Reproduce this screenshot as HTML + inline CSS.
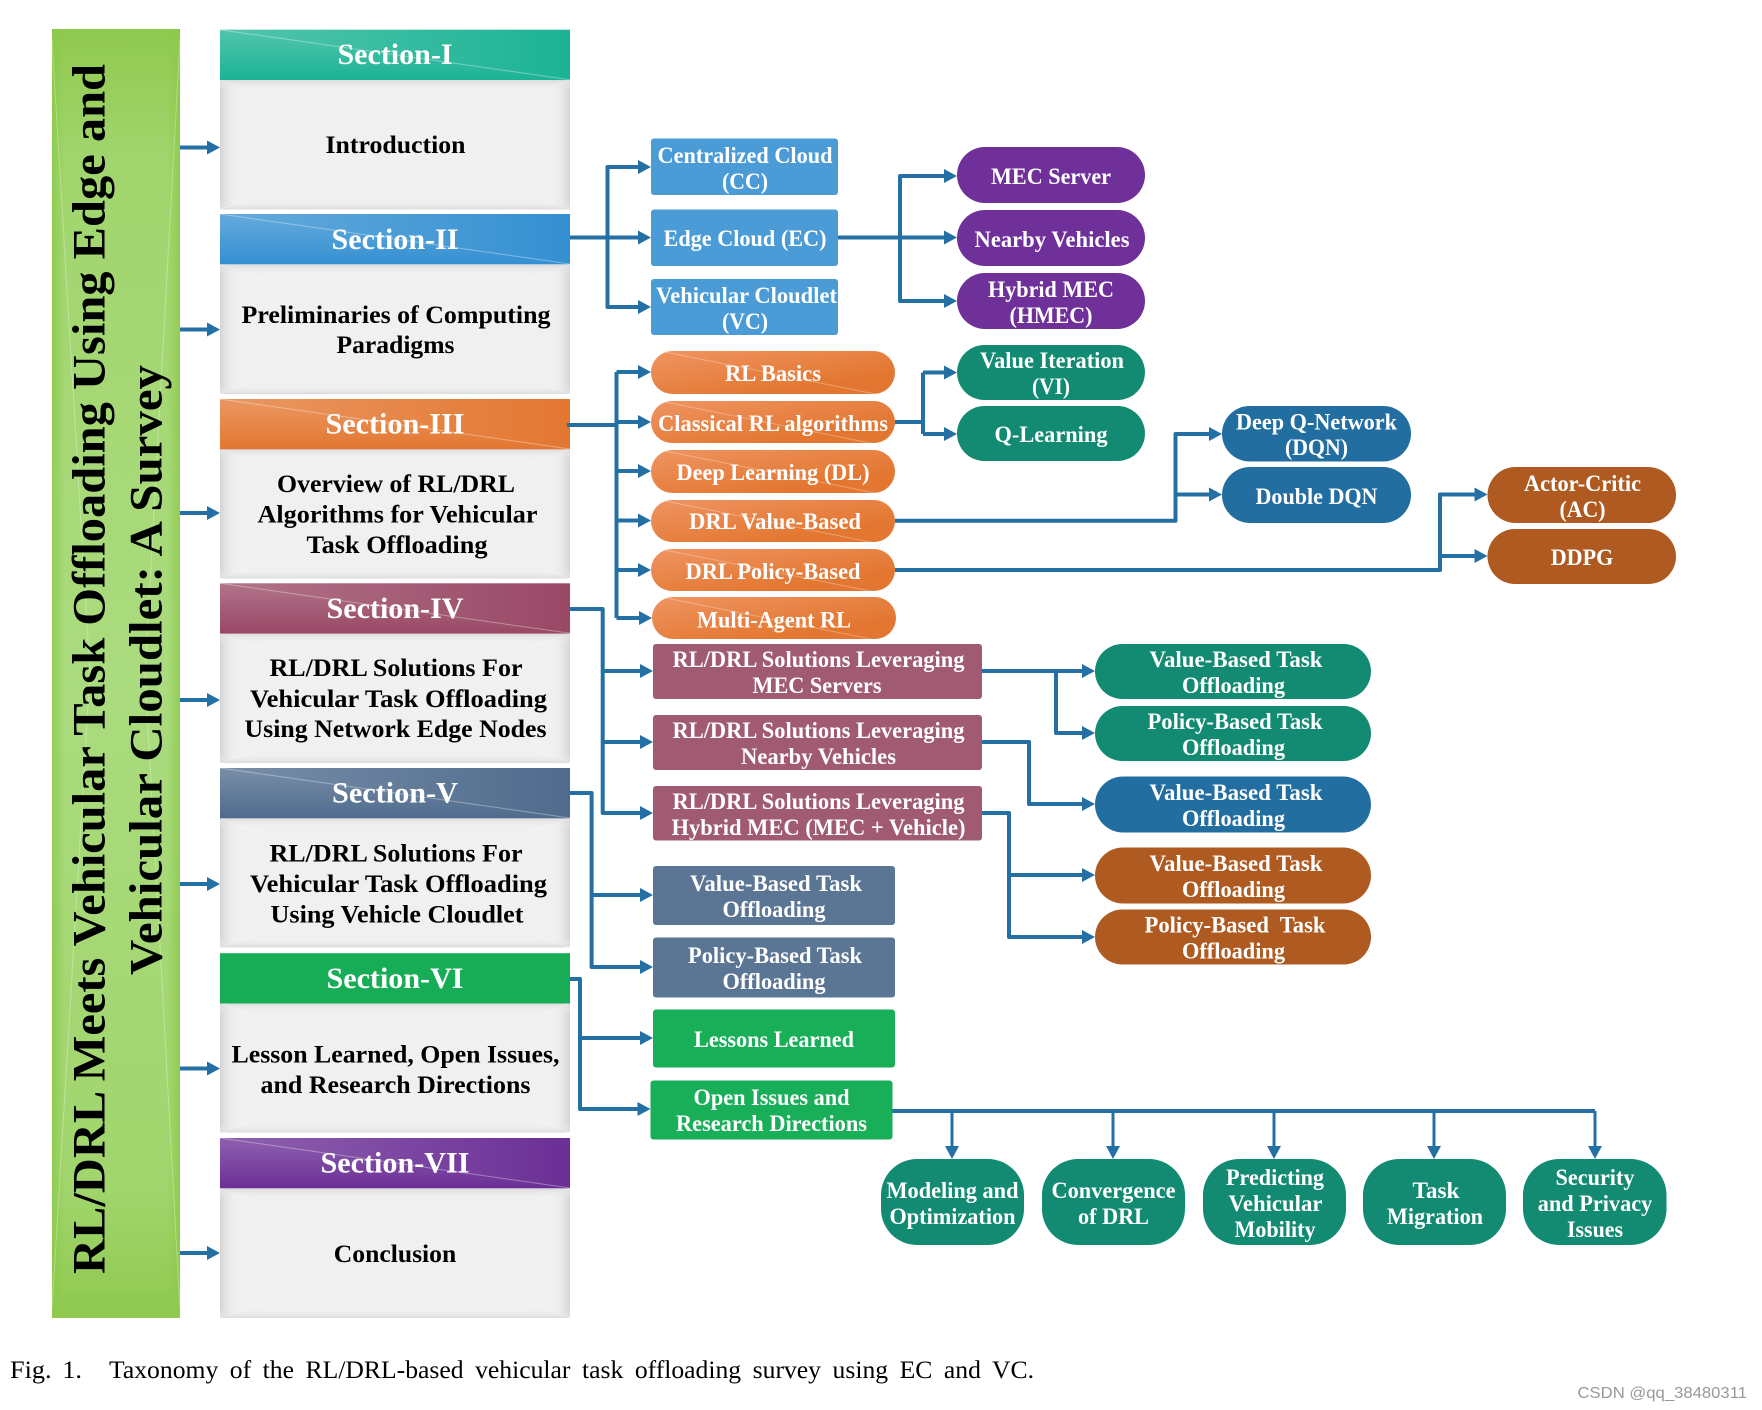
<!DOCTYPE html>
<html lang="en">
<head>
<meta charset="utf-8">
<title>Taxonomy of the RL/DRL-based vehicular task offloading survey</title>
<style>
html,body{margin:0;padding:0;background:#fff;width:1762px;height:1410px;overflow:hidden}
svg{display:block}
text{font-family:"Liberation Serif",serif;text-anchor:middle}
.t{font-weight:bold;fill:#fff;font-size:23px}
.s{font-weight:bold;fill:#fff;font-size:30px}
.k{font-weight:bold;fill:#000;font-size:25.5px}
</style>
</head>
<body>
<svg width="1762" height="1410" viewBox="0 0 1762 1410" xmlns="http://www.w3.org/2000/svg">
<defs>
<linearGradient id="barV" x1="0" y1="0" x2="0" y2="1"><stop offset="0" stop-color="#8fc94f"/><stop offset=".1" stop-color="#a1d56d"/><stop offset=".5" stop-color="#aadb7e"/><stop offset=".9" stop-color="#a1d56d"/><stop offset="1" stop-color="#8fc94f"/></linearGradient>
<linearGradient id="edgeH" x1="0" y1="0" x2="1" y2="0"><stop offset="0" stop-color="#8cc94a" stop-opacity=".8"/><stop offset=".1" stop-color="#8cc94a" stop-opacity="0"/><stop offset=".9" stop-color="#8cc94a" stop-opacity="0"/><stop offset="1" stop-color="#8cc94a" stop-opacity=".8"/></linearGradient>
<linearGradient id="gH" x1="0" y1="0" x2="1" y2="0"><stop offset="0" stop-color="#d4d4d4"/><stop offset=".05" stop-color="#f0f0f0" stop-opacity="0"/><stop offset=".95" stop-color="#f0f0f0" stop-opacity="0"/><stop offset="1" stop-color="#d4d4d4"/></linearGradient>
<linearGradient id="gV" x1="0" y1="0" x2="0" y2="1"><stop offset="0" stop-color="#dcdcdc"/><stop offset=".08" stop-color="#f0f0f0" stop-opacity="0"/><stop offset=".93" stop-color="#f0f0f0" stop-opacity="0"/><stop offset="1" stop-color="#dcdcdc"/></linearGradient>
<linearGradient id="hV" x1="0" y1="0" x2="0" y2="1"><stop offset="0" stop-color="#fff" stop-opacity=".24"/><stop offset="1" stop-color="#fff" stop-opacity="0"/></linearGradient>
<linearGradient id="hH" x1="0" y1="0" x2="1" y2="0"><stop offset="0" stop-color="#fff" stop-opacity=".24"/><stop offset="1" stop-color="#fff" stop-opacity="0"/></linearGradient>
<linearGradient id="or" x1="0" y1="0" x2="1" y2="1"><stop offset="0" stop-color="#ef9461"/><stop offset=".75" stop-color="#e37731"/></linearGradient>
<polygon id="a" points="-13,-7 0,0 -13,7" fill="#2470a4"/>
<polygon id="d" points="-7,-13 7,-13 0,0" fill="#2470a4"/>
<g id="b">
<rect x="220" y="0" width="350" height="129.500" fill="#f0f0f0"/>
<rect x="220" y="0" width="350" height="129.500" fill="url(#gH)"/>
<rect x="220" y="0" width="350" height="129.500" fill="url(#gV)"/>
<path d="M220 0L570 129.500M570 0L220 129.500" stroke="#fff" stroke-opacity=".3" stroke-width="1" fill="none"/>
</g>
<g id="hl">
<polygon points="220,0 570,50 570,0" fill="url(#hH)"/>
<polygon points="220,0 570,50 220,50" fill="url(#hV)"/>
<line x1="220" y1="0" x2="570" y2="50" stroke="#fff" stroke-opacity=".35" stroke-width="1"/>
</g>
</defs>

<!-- green title bar -->
<rect x="52" y="29" width="128" height="1289" fill="url(#barV)"/>
<rect x="52" y="29" width="128" height="1289" fill="url(#edgeH)"/>
<path d="M52 40L90 673L52 1310M180 40L145 673L180 1310" stroke="#fff" stroke-opacity=".3" stroke-width="1" fill="none"/>
<text transform="translate(104.500,669) rotate(-90)" font-size="47" font-weight="bold" fill="#000" textLength="1210" lengthAdjust="spacingAndGlyphs">RL/DRL Meets Vehicular Task Offloading Using Edge and</text>
<text transform="translate(161.500,670) rotate(-90)" font-size="47" font-weight="bold" fill="#000" textLength="610" lengthAdjust="spacingAndGlyphs">Vehicular Cloudlet: A Survey</text>

<!-- bar arrows -->
<g stroke="#2470a4" stroke-width="4" fill="none">
<path d="M180 147.500H210M180 329.500H210M180 513H210M180 700H210M180 884H210M180 1068.500H210M180 1253H210"/>
</g>
<use href="#a" x="220" y="147.500"/><use href="#a" x="220" y="329.500"/><use href="#a" x="220" y="513"/><use href="#a" x="220" y="700"/><use href="#a" x="220" y="884"/><use href="#a" x="220" y="1068.500"/><use href="#a" x="220" y="1253"/>

<!-- section panels -->
<use href="#b" y="80"/><use href="#b" y="264.500"/><use href="#b" y="449"/><use href="#b" y="633.500"/><use href="#b" y="818"/><use href="#b" y="1003"/><use href="#b" y="1188.500"/>
<rect x="220" y="29.700" width="350" height="50.300" fill="#1cb394"/><use href="#hl" y="29.700"/>
<rect x="220" y="214" width="350" height="50.300" fill="#3490d1"/><use href="#hl" y="214"/>
<rect x="220" y="399" width="350" height="50.300" fill="#e37731"/><use href="#hl" y="399"/>
<rect x="220" y="583.300" width="350" height="50.300" fill="#994865"/><use href="#hl" y="583.300"/>
<rect x="220" y="768" width="350" height="50.300" fill="#4f6b8d"/><use href="#hl" y="768"/>
<rect x="220" y="953.200" width="350" height="50.300" fill="#17ad57"/>
<rect x="220" y="1138" width="350" height="50.300" fill="#6b2f96"/><use href="#hl" y="1138"/>

<text class="s" x="395" y="64" textLength="115" lengthAdjust="spacingAndGlyphs">Section-I</text>
<text class="s" x="395" y="249" textLength="127" lengthAdjust="spacingAndGlyphs">Section-II</text>
<text class="s" x="395" y="433.500" textLength="139" lengthAdjust="spacingAndGlyphs">Section-III</text>
<text class="s" x="395" y="618" textLength="137" lengthAdjust="spacingAndGlyphs">Section-IV</text>
<text class="s" x="395" y="802.500" textLength="126" lengthAdjust="spacingAndGlyphs">Section-V</text>
<text class="s" x="395" y="988" textLength="137" lengthAdjust="spacingAndGlyphs">Section-VI</text>
<text class="s" x="395" y="1172.500" textLength="149" lengthAdjust="spacingAndGlyphs">Section-VII</text>

<text class="k" x="395.500" y="153" textLength="140" lengthAdjust="spacingAndGlyphs">Introduction</text>
<text class="k" x="396" y="323" textLength="309" lengthAdjust="spacingAndGlyphs">Preliminaries of Computing</text>
<text class="k" x="395.500" y="353" textLength="118" lengthAdjust="spacingAndGlyphs">Paradigms</text>
<text class="k" x="396" y="491.800" textLength="238" lengthAdjust="spacingAndGlyphs">Overview of RL/DRL</text>
<text class="k" x="397.500" y="522.500" textLength="280" lengthAdjust="spacingAndGlyphs">Algorithms for Vehicular</text>
<text class="k" x="397" y="552.800" textLength="181" lengthAdjust="spacingAndGlyphs">Task Offloading</text>
<text class="k" x="396" y="676" textLength="253" lengthAdjust="spacingAndGlyphs">RL/DRL Solutions For</text>
<text class="k" x="398.500" y="707" textLength="297" lengthAdjust="spacingAndGlyphs">Vehicular Task Offloading</text>
<text class="k" x="395.500" y="737" textLength="302" lengthAdjust="spacingAndGlyphs">Using Network Edge Nodes</text>
<text class="k" x="396" y="861.500" textLength="253" lengthAdjust="spacingAndGlyphs">RL/DRL Solutions For</text>
<text class="k" x="398.500" y="892" textLength="297" lengthAdjust="spacingAndGlyphs">Vehicular Task Offloading</text>
<text class="k" x="397" y="922.500" textLength="253" lengthAdjust="spacingAndGlyphs">Using Vehicle Cloudlet</text>
<text class="k" x="395.500" y="1062.500" textLength="328" lengthAdjust="spacingAndGlyphs">Lesson Learned, Open Issues,</text>
<text class="k" x="395.500" y="1093" textLength="270" lengthAdjust="spacingAndGlyphs">and Research Directions</text>
<text class="k" x="395" y="1262" textLength="122.500" lengthAdjust="spacingAndGlyphs">Conclusion</text>

<!-- connectors -->
<g stroke="#2470a4" stroke-width="4" fill="none" stroke-linejoin="round" stroke-linecap="butt">
<path d="M570 237.500H640M607.500 237.500V167H640M607.500 237.500V307H640"/>
<path d="M838 237.500H946M900 237.500V176H946M900 237.500V301H946"/>
<path d="M567 425H616.500M616.500 372V618M616.500 372H640M616.500 422H640M616.500 471H640M616.500 520.500H640M616.500 570H640M616.500 618H640"/>
<path d="M895 422H923M923 372.500V434M923 372.500H946M923 434H946"/>
<path d="M895 520.700H1175.500V434H1211M1175.500 494.500H1211"/>
<path d="M895 570H1440V494.500H1476M1440 556H1476"/>
<path d="M570 609H602.700V813H642M602.700 671H642M602.700 742H642"/>
<path d="M982 671H1084M1056 671V733H1084"/>
<path d="M982 742H1029V804H1084"/>
<path d="M982 813H1009V937H1084M1009 875H1084"/>
<path d="M570 793H591.600V967H642M591.600 895H642"/>
<path d="M570 979H580V1109H640M580 1038H642"/>
<path d="M892 1111H1595"/>
</g>
<g stroke="#2470a4" stroke-width="3" fill="none">
<path d="M952 1111V1147M1113 1111V1147M1274 1111V1147M1434 1111V1147M1595 1111V1147"/>
</g>
<use href="#a" x="651" y="167"/><use href="#a" x="651" y="237.500"/><use href="#a" x="651" y="307"/>
<use href="#a" x="957" y="176"/><use href="#a" x="957" y="237.500"/><use href="#a" x="957" y="301"/>
<use href="#a" x="651" y="372"/><use href="#a" x="651" y="422"/><use href="#a" x="651" y="471"/><use href="#a" x="651" y="520.500"/><use href="#a" x="651" y="570"/><use href="#a" x="652" y="618"/>
<use href="#a" x="957" y="372.500"/><use href="#a" x="957" y="434"/>
<use href="#a" x="1222" y="434"/><use href="#a" x="1222" y="494.500"/>
<use href="#a" x="1487.500" y="494.500"/><use href="#a" x="1487.500" y="556"/>
<use href="#a" x="653" y="671"/><use href="#a" x="653" y="742"/><use href="#a" x="653" y="813"/>
<use href="#a" x="1095" y="671"/><use href="#a" x="1095" y="733"/><use href="#a" x="1095" y="804"/><use href="#a" x="1095" y="875"/><use href="#a" x="1095" y="937"/>
<use href="#a" x="653" y="895"/><use href="#a" x="653" y="967"/>
<use href="#a" x="653" y="1038"/><use href="#a" x="650.500" y="1109"/>
<use href="#d" x="952" y="1159"/><use href="#d" x="1113" y="1159"/><use href="#d" x="1274" y="1159"/><use href="#d" x="1434" y="1159"/><use href="#d" x="1595" y="1159"/>

<!-- cloud boxes -->
<g fill="#4a9bd6">
<rect x="651" y="138.500" width="187" height="56.500" rx="3"/>
<rect x="651" y="209.500" width="187" height="56.500" rx="3"/>
<rect x="651" y="279" width="187" height="56" rx="3"/>
</g>
<text class="t" x="745" y="163" textLength="175" lengthAdjust="spacingAndGlyphs">Centralized Cloud</text>
<text class="t" x="745" y="189" textLength="46" lengthAdjust="spacingAndGlyphs">(CC)</text>
<text class="t" x="745" y="246" textLength="163" lengthAdjust="spacingAndGlyphs">Edge Cloud (EC)</text>
<text class="t" x="746.500" y="303" textLength="181" lengthAdjust="spacingAndGlyphs">Vehicular Cloudlet</text>
<text class="t" x="745" y="329" textLength="46" lengthAdjust="spacingAndGlyphs">(VC)</text>

<!-- purple -->
<g fill="#70309a">
<rect x="957" y="147" width="188" height="56" rx="28"/>
<rect x="957" y="210" width="188" height="56" rx="28"/>
<rect x="957" y="273" width="188" height="56" rx="28"/>
</g>
<text class="t" x="1051" y="184" textLength="120" lengthAdjust="spacingAndGlyphs">MEC Server</text>
<text class="t" x="1052" y="247" textLength="155" lengthAdjust="spacingAndGlyphs">Nearby Vehicles</text>
<text class="t" x="1051" y="297" textLength="126" lengthAdjust="spacingAndGlyphs">Hybrid MEC</text>
<text class="t" x="1051" y="323" textLength="83" lengthAdjust="spacingAndGlyphs">(HMEC)</text>

<!-- orange -->
<g fill="url(#or)">
<rect x="651" y="351" width="244" height="43" rx="21.500"/>
<rect x="651" y="401" width="244" height="42" rx="21"/>
<rect x="651" y="450" width="244" height="43" rx="21.500"/>
<rect x="651" y="500" width="244" height="42" rx="21"/>
<rect x="651" y="549" width="244" height="42" rx="21"/>
<rect x="652" y="597" width="244" height="42" rx="21"/>
</g>
<g stroke="#fff" stroke-opacity=".3" stroke-width="1">
<line x1="665" y1="352" x2="880" y2="395"/>
<line x1="665" y1="402" x2="880" y2="445"/>
<line x1="665" y1="451" x2="880" y2="494"/>
<line x1="665" y1="501" x2="880" y2="544"/>
<line x1="665" y1="550" x2="880" y2="593"/>
<line x1="666" y1="598" x2="881" y2="641"/>
</g>
<text class="t" x="773" y="381" textLength="96" lengthAdjust="spacingAndGlyphs">RL Basics</text>
<text class="t" x="773" y="431" textLength="230" lengthAdjust="spacingAndGlyphs">Classical RL algorithms</text>
<text class="t" x="773" y="480" textLength="193" lengthAdjust="spacingAndGlyphs">Deep Learning (DL)</text>
<text class="t" x="775" y="529" textLength="172" lengthAdjust="spacingAndGlyphs">DRL Value-Based</text>
<text class="t" x="773" y="579" textLength="175" lengthAdjust="spacingAndGlyphs">DRL Policy-Based</text>
<text class="t" x="774" y="627.500" textLength="154" lengthAdjust="spacingAndGlyphs">Multi-Agent RL</text>

<!-- teal VI / Q -->
<g fill="#138a72">
<rect x="957" y="345" width="188" height="55" rx="27.500"/>
<rect x="957" y="406" width="188" height="55" rx="27.500"/>
</g>
<text class="t" x="1052" y="368" textLength="144" lengthAdjust="spacingAndGlyphs">Value Iteration</text>
<text class="t" x="1051" y="394" textLength="38" lengthAdjust="spacingAndGlyphs">(VI)</text>
<text class="t" x="1051" y="442" textLength="113" lengthAdjust="spacingAndGlyphs">Q-Learning</text>

<!-- DQN -->
<g fill="#236ea1">
<rect x="1222" y="406" width="189" height="55.500" rx="27.700"/>
<rect x="1222" y="467" width="189" height="56" rx="28"/>
</g>
<text class="t" x="1316.500" y="429.500" textLength="161" lengthAdjust="spacingAndGlyphs">Deep Q-Network</text>
<text class="t" x="1316.500" y="455" textLength="63" lengthAdjust="spacingAndGlyphs">(DQN)</text>
<text class="t" x="1316.500" y="504" textLength="122" lengthAdjust="spacingAndGlyphs">Double DQN</text>

<!-- brown -->
<g fill="#ae5a21">
<rect x="1487.500" y="467" width="188.500" height="56" rx="28"/>
<rect x="1487.500" y="529" width="188.500" height="55" rx="27.500"/>
</g>
<text class="t" x="1582.500" y="491" textLength="117" lengthAdjust="spacingAndGlyphs">Actor-Critic</text>
<text class="t" x="1582.500" y="517" textLength="46" lengthAdjust="spacingAndGlyphs">(AC)</text>
<text class="t" x="1582" y="565" textLength="62.500" lengthAdjust="spacingAndGlyphs">DDPG</text>

<!-- maroon -->
<g fill="#a05b72">
<rect x="653" y="644" width="329" height="55" rx="3"/>
<rect x="653" y="715" width="329" height="55" rx="3"/>
<rect x="653" y="786" width="329" height="54.500" rx="3"/>
</g>
<text class="t" x="818.500" y="667" textLength="292" lengthAdjust="spacingAndGlyphs">RL/DRL Solutions Leveraging</text>
<text class="t" x="817" y="693" textLength="129" lengthAdjust="spacingAndGlyphs">MEC Servers</text>
<text class="t" x="818.500" y="738" textLength="292" lengthAdjust="spacingAndGlyphs">RL/DRL Solutions Leveraging</text>
<text class="t" x="818.500" y="764" textLength="155" lengthAdjust="spacingAndGlyphs">Nearby Vehicles</text>
<text class="t" x="818.500" y="809" textLength="292" lengthAdjust="spacingAndGlyphs">RL/DRL Solutions Leveraging</text>
<text class="t" x="818.500" y="835" textLength="294" lengthAdjust="spacingAndGlyphs">Hybrid MEC (MEC + Vehicle)</text>

<!-- right pills -->
<g fill="#138a72">
<rect x="1095" y="644" width="276" height="55" rx="27.500"/>
<rect x="1095" y="706" width="276" height="55" rx="27.500"/>
</g>
<rect x="1095" y="776.500" width="276" height="56" rx="28" fill="#236ea1"/>
<g fill="#ae5a21">
<rect x="1095" y="847.500" width="276" height="56" rx="28"/>
<rect x="1095" y="909.500" width="276" height="55" rx="27.500"/>
</g>
<text class="t" x="1236" y="667" textLength="173" lengthAdjust="spacingAndGlyphs">Value-Based Task</text>
<text class="t" x="1233.500" y="693" textLength="103" lengthAdjust="spacingAndGlyphs">Offloading</text>
<text class="t" x="1235" y="729" textLength="175" lengthAdjust="spacingAndGlyphs">Policy-Based Task</text>
<text class="t" x="1233.500" y="755" textLength="103" lengthAdjust="spacingAndGlyphs">Offloading</text>
<text class="t" x="1236" y="800" textLength="173" lengthAdjust="spacingAndGlyphs">Value-Based Task</text>
<text class="t" x="1233.500" y="826" textLength="103" lengthAdjust="spacingAndGlyphs">Offloading</text>
<text class="t" x="1236" y="871" textLength="173" lengthAdjust="spacingAndGlyphs">Value-Based Task</text>
<text class="t" x="1233.500" y="897" textLength="103" lengthAdjust="spacingAndGlyphs">Offloading</text>
<text class="t" x="1235" y="932.500" textLength="181" lengthAdjust="spacingAndGlyphs" xml:space="preserve">Policy-Based  Task</text>
<text class="t" x="1233.500" y="958.500" textLength="103" lengthAdjust="spacingAndGlyphs">Offloading</text>

<!-- slate -->
<g fill="#5b7595">
<rect x="653" y="866" width="242" height="59" rx="3"/>
<rect x="653" y="937.500" width="242" height="60" rx="3"/>
</g>
<text class="t" x="776" y="891" textLength="172" lengthAdjust="spacingAndGlyphs">Value-Based Task</text>
<text class="t" x="774" y="917" textLength="103" lengthAdjust="spacingAndGlyphs">Offloading</text>
<text class="t" x="775" y="963" textLength="174" lengthAdjust="spacingAndGlyphs">Policy-Based Task</text>
<text class="t" x="774" y="989" textLength="103" lengthAdjust="spacingAndGlyphs">Offloading</text>

<!-- green boxes -->
<g fill="#19ae58">
<rect x="653" y="1009.500" width="242" height="58" rx="3"/>
<rect x="650.500" y="1080.500" width="242" height="59" rx="3"/>
</g>
<text class="t" x="774" y="1047" textLength="160" lengthAdjust="spacingAndGlyphs">Lessons Learned</text>
<text class="t" x="771.500" y="1105" textLength="156" lengthAdjust="spacingAndGlyphs">Open Issues and</text>
<text class="t" x="771.500" y="1131" textLength="191" lengthAdjust="spacingAndGlyphs">Research Directions</text>

<!-- bottom pills -->
<g fill="#138a72">
<rect x="881" y="1159" width="143" height="86" rx="36"/>
<rect x="1042" y="1159" width="143" height="86" rx="36"/>
<rect x="1203" y="1159" width="143" height="86" rx="36"/>
<rect x="1363" y="1159" width="143" height="86" rx="36"/>
<rect x="1523" y="1159" width="143.500" height="86" rx="36"/>
</g>
<text class="t" x="952.500" y="1198" textLength="132" lengthAdjust="spacingAndGlyphs">Modeling and</text>
<text class="t" x="952.500" y="1224" textLength="126" lengthAdjust="spacingAndGlyphs">Optimization</text>
<text class="t" x="1113.500" y="1198" textLength="124" lengthAdjust="spacingAndGlyphs">Convergence</text>
<text class="t" x="1113.500" y="1224" textLength="71" lengthAdjust="spacingAndGlyphs">of DRL</text>
<text class="t" x="1275" y="1185" textLength="98" lengthAdjust="spacingAndGlyphs">Predicting</text>
<text class="t" x="1275.500" y="1211" textLength="94" lengthAdjust="spacingAndGlyphs">Vehicular</text>
<text class="t" x="1275" y="1237" textLength="81" lengthAdjust="spacingAndGlyphs">Mobility</text>
<text class="t" x="1436" y="1198" textLength="47" lengthAdjust="spacingAndGlyphs">Task</text>
<text class="t" x="1435" y="1224" textLength="96" lengthAdjust="spacingAndGlyphs">Migration</text>
<text class="t" x="1595" y="1185" textLength="79" lengthAdjust="spacingAndGlyphs">Security</text>
<text class="t" x="1595" y="1211" textLength="114.500" lengthAdjust="spacingAndGlyphs">and Privacy</text>
<text class="t" x="1595" y="1237" textLength="56" lengthAdjust="spacingAndGlyphs">Issues</text>

<!-- caption -->
<text x="10" y="1378" font-size="25" fill="#000" style="text-anchor:start" word-spacing="4" textLength="72" lengthAdjust="spacingAndGlyphs">Fig. 1.</text>
<text x="109" y="1378" font-size="25" fill="#000" style="text-anchor:start" word-spacing="5" textLength="925" lengthAdjust="spacingAndGlyphs">Taxonomy of the RL/DRL-based vehicular task offloading survey using EC and VC.</text>
<text x="1577.500" y="1398" font-size="16" fill="#999" style="text-anchor:start;font-family:'Liberation Sans',sans-serif" textLength="169.500" lengthAdjust="spacingAndGlyphs">CSDN @qq_38480311</text>
</svg>
</body>
</html>
